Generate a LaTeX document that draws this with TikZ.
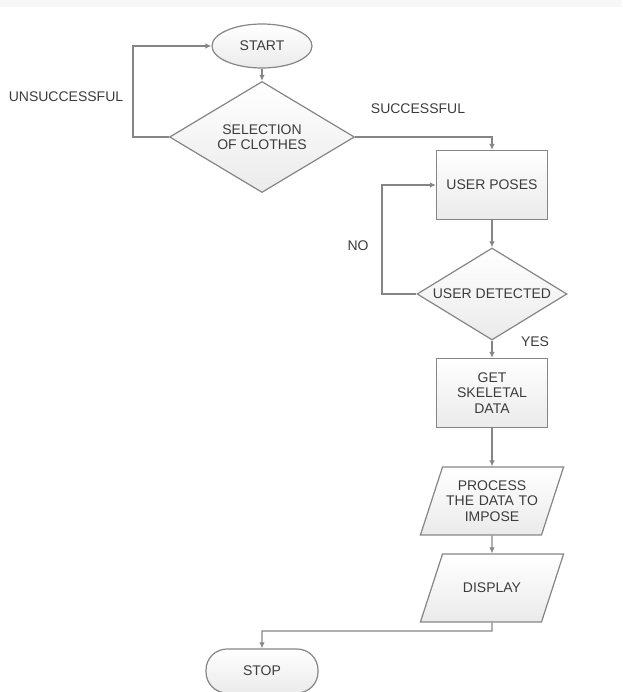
\documentclass[tikz,border=0pt]{standalone}
\usepackage{fontspec}
\setmainfont{Liberation Sans}
\usetikzlibrary{arrows.meta,positioning,calc,shapes.geometric}

\definecolor{lineg}{HTML}{858585}
\definecolor{textg}{HTML}{3C3C3C}
\tikzset{
  base/.style={draw=lineg, line width=1.2pt, text=textg, top color=white, bottom color=gray!16,
    inner sep=0pt, align=center, font=\fontsize{14}{15.5}\selectfont},
  terminal/.style={base, ellipse, minimum width=100pt, minimum height=44pt},
  stopbox/.style={base, rectangle, rounded corners=21pt, minimum width=112pt, minimum height=44pt},
  decision/.style={base, diamond, aspect=1.65},
  process/.style={base, rectangle, minimum width=111pt, minimum height=69pt},
  io/.style={base, trapezium, trapezium left angle=72, trapezium right angle=108, text width=99pt},
  arr/.style={draw=lineg, line width=1.2pt, -{Latex[length=6pt,width=5.5pt]}},
  lbl/.style={text=textg, font=\fontsize{14}{15.5}\selectfont}
}

\begin{document}
\begin{tikzpicture}[x=1pt, y=-1pt]
    \useasboundingbox (0,0) rectangle (622,692);
    \fill[gray!6] (0,0) rectangle (622,7);

    % --- selection of clothes ---
    \node[terminal] (start) at (262,46) {START};
    \node[decision, minimum width=185pt, minimum height=111pt] (sel) at (262,137) {SELECTION\\OF CLOTHES};
    \coordinate (uloop) at (133,137);
    \node[lbl] (unsucc) at (66,97) {UNSUCCESSFUL};
    \node[lbl] (succ) at (418,109) {SUCCESSFUL};

    % --- pose detection ---
    \node[process] (poses) at (492,185) {USER POSES};
    \node[decision, minimum width=150pt, minimum height=92pt] (det) at (492,294) {USER DETECTED};
    \coordinate (nloop) at (382,294);
    \node[lbl] (no) at (358,246) {NO};
    \node[lbl] (yes) at (535,342) {YES};

    % --- output ---
    \node[process] (skel) at (492,393) {GET\\SKELETAL\\DATA};
    \node[io, inner ysep=13.5pt] (proc) at (492,501) {PROCESS\\THE DATA TO\\IMPOSE};
    \node[io, inner ysep=29pt] (disp) at (492,588) {DISPLAY};
    \coordinate (dbend) at (492,631);
    \node[stopbox] (stop) at (262,671) {STOP};

    % --- connectors ---
    \draw[arr] (start) -- (sel);
    \draw[arr] (sel.west) -- (uloop) |- (start.west);
    \draw[arr] (sel.east) -| (poses.north);
    \draw[arr] (poses) -- (det);
    \draw[arr] (det.west) -- (nloop) |- (poses.west);
    \draw[arr] (det) -- (skel);
    \draw[arr] (skel) -- (proc);
    \draw[arr] (proc) -- (disp);
    \draw[arr] (disp.south) -- (dbend) -| (stop.north);
  \end{tikzpicture}
\end{document}
